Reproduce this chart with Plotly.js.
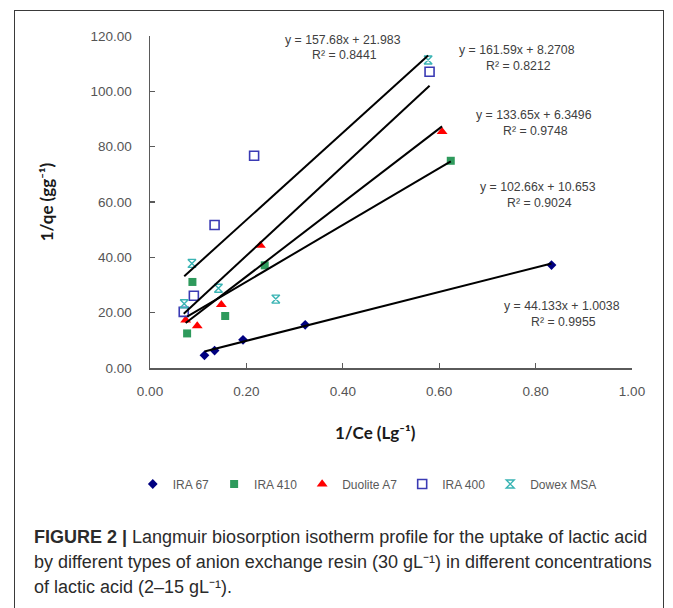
<!DOCTYPE html>
<html>
<head>
<meta charset="utf-8">
<script src="https://cdn.plot.ly/plotly-3.0.1.min.js"></script>
<style>
  html, body { margin: 0; padding: 0; background: #ffffff; }
  #frame { position: absolute; left: 14px; top: 10px; width: 650px; height: 640px; border: 1px solid #3a3a3a; box-sizing: border-box; }
  #chart { position: absolute; left: 0; top: 0; width: 673px; height: 608px; }
</style>
</head>
<body>
<div id="frame"></div>
<div id="chart"></div>
<script>
// ---- data ----
const seriesNames = ["IRA 67", "IRA 410", "Duolite A7", "IRA 400", "Dowex MSA"];
const ira67_x   = [0.113, 0.134, 0.193, 0.322, 0.833];
const ira67_y   = [4.6, 6.3, 10.2, 15.6, 37.2];
const ira410_x  = [0.077, 0.088, 0.156, 0.238, 0.624];
const ira410_y  = [12.5, 31.1, 18.8, 37.1, 74.9];
const duolite_x = [0.074, 0.098, 0.148, 0.229, 0.606];
const duolite_y = [17.3, 15.2, 22.9, 44.3, 85.4];
const ira400_x  = [0.070, 0.091, 0.134, 0.216, 0.580];
const ira400_y  = [20.3, 26.1, 51.7, 76.7, 107.1];
const dowex_x   = [0.071, 0.087, 0.142, 0.261, 0.577];
const dowex_y   = [23.2, 37.8, 28.8, 24.9, 111.3];
// linear trendline coefficients (slope, intercept, R²) as printed on the chart
const slopes     = [44.133, 102.66, 133.65, 161.59, 157.68];
const intercepts = [1.0038, 10.653, 6.3496, 8.2708, 21.983];
const r2         = [0.9955, 0.9024, 0.9748, 0.8212, 0.8441];
const xTickVals  = [0, 0.2, 0.4, 0.6, 0.8, 1.0];
const yTickVals  = [0, 20, 40, 60, 80, 100, 120];

const xs = [ira67_x, ira410_x, duolite_x, ira400_x, dowex_x];
const ys = [ira67_y, ira410_y, duolite_y, ira400_y, dowex_y];

const styles = [
  {symbol: "diamond", size: 7.5, color: "#000080"},
  {symbol: "square", size: 8, color: "#2e9a5c"},
  {symbol: "triangle-up", size: 9.5, color: "#ff0000"},
  {symbol: "square-open", size: 9, color: "#3a3ab4", lw: 1.6},
  {symbol: "hourglass-open", size: 8, color: "#3ab4b4", lw: 1.4}
];

const traces = [];
seriesNames.forEach((name, i) => {
  const s = styles[i];
  traces.push({
    type: "scatter", mode: "markers", name: name,
    x: xs[i], y: ys[i],
    marker: {symbol: s.symbol, size: s.size, color: s.color,
             line: {color: s.color, width: s.lw || 0}}
  });
});
// trendlines from min x to max x of each series
seriesNames.forEach((name, i) => {
  const xmin = Math.min(...xs[i]), xmax = Math.max(...xs[i]);
  traces.push({
    type: "scatter", mode: "lines", name: name + " trend", showlegend: false, hoverinfo: "skip",
    x: [xmin, xmax],
    y: [slopes[i] * xmin + intercepts[i], slopes[i] * xmax + intercepts[i]],
    line: {color: "#000000", width: 2}
  });
});

// equation label positions (page px) — placement only
const eqPos = [
  {x: 562, y: 306}, // IRA 67
  {x: 538, y: 187}, // IRA 410
  {x: 534, y: 115}, // Duolite
  {x: 517, y: 50},  // IRA 400
  {x: 343, y: 40}   // Dowex
];
const L = 149.5, T = 36, W = 482.5, H = 332;
const px2paperX = p => (p - L) / W;
const px2paperY = p => 1 - (p - T) / H;

const eqFont = {family: "Liberation Sans, Arial, sans-serif", size: 12.3, color: "#404040"};
const annotations = [];
seriesNames.forEach((name, i) => {
  const sign = intercepts[i] >= 0 ? "+" : "-";
  annotations.push({
    xref: "paper", yref: "paper", x: px2paperX(eqPos[i].x), y: px2paperY(eqPos[i].y),
    xanchor: "center", yanchor: "middle", showarrow: false, align: "center",
    text: "y = " + slopes[i] + "x " + sign + " " + Math.abs(intercepts[i]),
    font: eqFont
  });
  annotations.push({
    xref: "paper", yref: "paper", x: px2paperX(eqPos[i].x + 1), y: px2paperY(eqPos[i].y + 15.5),
    xanchor: "center", yanchor: "middle", showarrow: false, align: "center",
    text: "R² = " + r2[i].toFixed(4),
    font: eqFont
  });
});

// x-axis title
const titleFont = {family: "Lato, Open Sans, sans-serif", size: 17, color: "#1a1a1a", weight: "bold"};
annotations.push({
  xref: "paper", yref: "paper", x: px2paperX(375), y: px2paperY(432),
  xanchor: "center", yanchor: "middle", showarrow: false,
  text: "1/Ce (Lg⁻¹)", font: titleFont
});

// caption
const capFont = {family: "Liberation Sans, Arial, sans-serif", size: 18, color: "#2b2b2b"};
const captionLines = [
  "<b>FIGURE 2 |</b> Langmuir biosorption isotherm profile for the uptake of lactic acid",
  "by different types of anion exchange resin (30 gL⁻¹) in different concentrations",
  "of lactic acid (2–15 gL⁻¹)."
];
const capY = [537, 562, 587];
captionLines.forEach((t, i) => {
  annotations.push({
    xref: "paper", yref: "paper", x: px2paperX(31), y: px2paperY(capY[i]),
    xanchor: "left", yanchor: "middle", showarrow: false, align: "left",
    text: t, font: capFont
  });
});

const axisCommon = {
  showgrid: false, zeroline: false, showline: true,
  linecolor: "#5a5a5a", linewidth: 1.5,
  ticks: "inside", ticklen: 5, tickwidth: 1.2, tickcolor: "#5a5a5a",
  tickformat: ".2f",
  tickfont: {family: "Liberation Sans, Arial, sans-serif", size: 13.5, color: "#555555"}
};

const layout = {
  width: 673, height: 608,
  margin: {l: L, r: 673 - L - W, t: T, b: 608 - T - H, pad: 0},
  paper_bgcolor: "rgba(0,0,0,0)", plot_bgcolor: "rgba(0,0,0,0)",
  xaxis: Object.assign({}, axisCommon, {
    range: [0, 1.0], tickvals: xTickVals, ticklabelstandoff: 10
  }),
  yaxis: Object.assign({}, axisCommon, {
    range: [0, 120], tickvals: yTickVals, ticklabelstandoff: 14,
    title: {text: "1/qe (gg⁻¹)", standoff: 32, font: titleFont}
  }),
  showlegend: true,
  legend: {
    orientation: "h", x: px2paperX(367), y: px2paperY(484),
    xanchor: "center", yanchor: "middle",
    font: {family: "Liberation Sans, Arial, sans-serif", size: 12, color: "#595959"},
    itemwidth: 30, bgcolor: "rgba(0,0,0,0)"
  },
  annotations: annotations
};

Plotly.newPlot("chart", traces, layout, {displayModeBar: false, staticPlot: true});
</script>
</body>
</html>
